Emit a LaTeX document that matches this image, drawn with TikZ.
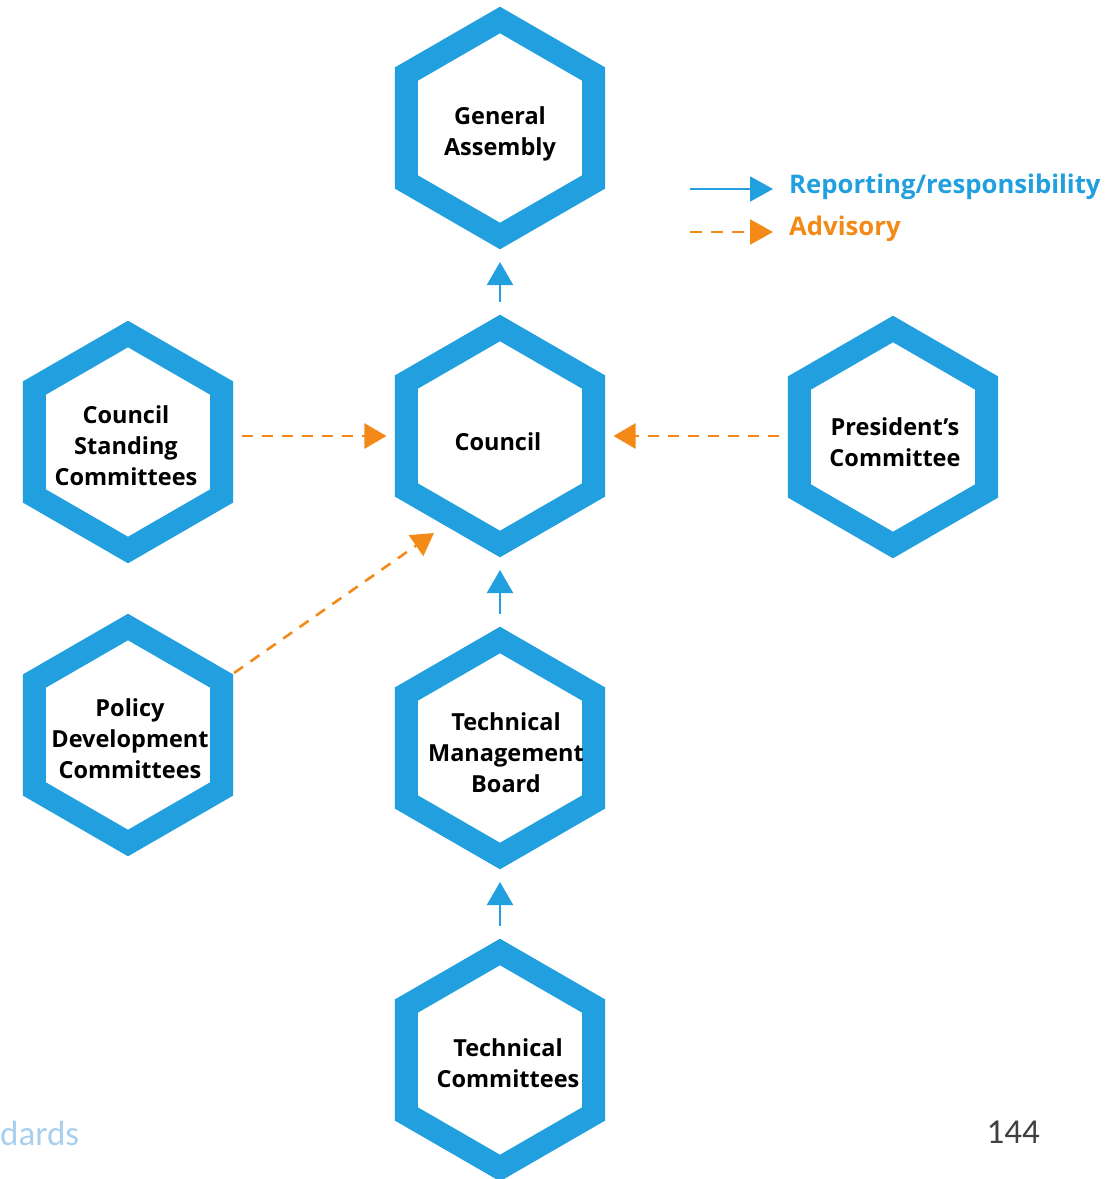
\documentclass[tikz,border=0pt]{standalone}
\usepackage{fontspec}
\setmainfont{Open Sans}
\newfontfamily\pagefont{Carlito}
\usetikzlibrary{arrows.meta,shapes.geometric,calc}
\definecolor{hexblue}{HTML}{219FDF}
\definecolor{advorange}{HTML}{F38A17}
\definecolor{footblue}{HTML}{A9CFEE}
\definecolor{footgrey}{HTML}{404040}
\begin{document}
\begin{tikzpicture}[x=1pt,y=-1pt,
  hexa/.style={regular polygon,regular polygon sides=6,regular polygon rotate=30,
    minimum size=216pt,inner sep=0pt,outer sep=0pt,draw=hexblue,line width=23pt,
    line join=miter},
  hextext/.style={align=center,font=\fontsize{23.5}{31}\selectfont\bfseries,inner sep=0pt},
  report/.style={draw=hexblue,line width=2.2pt,-{Triangle[length=23pt,width=26pt]},
    shorten <=26pt,shorten >=26pt},
  advise/.style={draw=advorange,line width=2.6pt,dash pattern=on 11pt off 9pt,
    -{Triangle[length=22pt,width=25pt]}},
  legtext/.style={anchor=west,inner sep=0pt,font=\fontsize{25.7}{30}\selectfont\bfseries}
]
\useasboundingbox (0,0) rectangle (1114,1179);

% hexagons
\node[hexa] (ga)  at (500,128) {};
\node[hexa] (co)  at (500,436) {};
\node[hexa] (csc) at (128,442) {};
\node[hexa] (pc)  at (893,437) {};
\node[hexa] (pdc) at (128,735) {};
\node[hexa] (tmb) at (500,748) {};
\node[hexa] (tc)  at (500,1060) {};

% texts
\node[hextext] (gat)  at ($(ga.center)+(0,6)$) {General\\Assembly};
\node[hextext] (cot)  at ($(co.center)+(-2,6)$) {Council};
\node[hextext] (csct) at ($(csc.center)+(-2,4)$) {Council\\Standing\\Committees};
\node[hextext] (pct)  at ($(pc.center)+(2,5)$) {President’s\\Committee};
\node[hextext] (pdct) at ($(pdc.center)+(2,4)$) {Policy\\Development\\Committees};
\node[hextext] (tmbt) at ($(tmb.center)+(6,5)$) {Technical\\Management\\Board};
\node[hextext] (tct)  at ($(tc.center)+(8,3)$) {Technical\\Committees};

% reporting arrows
\draw[report] (co) -- (ga);
\draw[report] (tmb) -- (co);
\draw[report] (tc) -- (tmb);

% advisory arrows
\draw[advise,shorten <=20pt,shorten >=20pt] (co.west -| csc.east) -- (co.west);
\draw[advise,shorten <=20pt,shorten >=20pt] (pc.west |- co.east) -- (co.east);
\coordinate (pdcs) at ($(pdc.center)+(106,-62)$);
\coordinate (pdce) at ($(co.center)+(-66,97)$);
\draw[advise] (pdcs) -- (pdce);

% legend
\coordinate (l1a) at (690,189);
\coordinate (l1b) at (773,189);
\coordinate (l2a) at (690,232);
\coordinate (l2b) at (773,232);
\draw[draw=hexblue,line width=2pt,-{Triangle[length=23pt,width=25pt]}] (l1a) -- (l1b);
\draw[draw=advorange,line width=2.4pt,dash pattern=on 12pt off 9pt,-{Triangle[length=23pt,width=25pt]}] (l2a) -- (l2b);
\node[legtext,text=hexblue] (l1t) at (789,187) {Reporting/responsibility};
\node[legtext,text=advorange] (l2t) at (789,229) {Advisory};

% footer
\node[anchor=west,inner sep=0pt,text=footblue,font=\pagefont\fontsize{35}{40}\selectfont] (foot) at (0,1133) {dards};
\node[anchor=east,inner sep=0pt,text=footgrey,font=\pagefont\fontsize{35}{40}\selectfont] (pnum) at (1040,1132) {144};
\end{tikzpicture}
\end{document}
